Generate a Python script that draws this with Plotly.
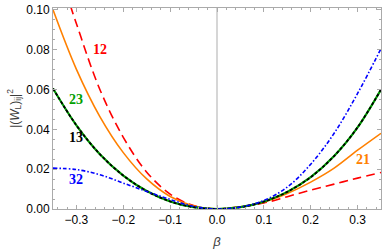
import plotly.graph_objects as go

beta = [-0.35, -0.30, -0.25, -0.20, -0.15, -0.10, -0.05, 0.0,
        0.05, 0.10, 0.15, 0.20, 0.25, 0.30, 0.35]

w12 = [0.129, 0.093, 0.060, 0.036, 0.0185, 0.0075, 0.0017, 0.0,
       0.0012, 0.0030, 0.0062, 0.0095, 0.0125, 0.0155, 0.0183]
w21 = [0.1000, 0.0701, 0.0464, 0.0283, 0.0151, 0.0063, 0.0015, 0.0,
       0.0011, 0.0035, 0.0078, 0.0135, 0.0205, 0.0295, 0.0380]
w13 = [0.0605, 0.0420, 0.0275, 0.0168, 0.0090, 0.0038, 0.0009, 0.0,
       0.0009, 0.0037, 0.0086, 0.0160, 0.0266, 0.0410, 0.0600]
w23 = [0.0605, 0.0420, 0.0275, 0.0168, 0.0090, 0.0038, 0.0009, 0.0,
       0.0009, 0.0037, 0.0086, 0.0160, 0.0266, 0.0410, 0.0600]
w32 = [0.0205, 0.0198, 0.0172, 0.0130, 0.0088, 0.0048, 0.0013, 0.0,
       0.0010, 0.0043, 0.0110, 0.0225, 0.0380, 0.0580, 0.0805]

labels = ["12", "21", "13", "23", "32"]
label_x = [-0.249, 0.311, -0.300, -0.300, -0.300]
label_y = [0.080, 0.0247, 0.0357, 0.0551, 0.0147]

RED = "rgb(255,0,0)"
ORANGE = "rgb(255,128,0)"
BLACK = "rgb(0,0,0)"
GREEN = "rgb(0,160,0)"
BLUE = "rgb(0,0,255)"
label_colors = [RED, ORANGE, BLACK, GREEN, BLUE]

fig = go.Figure()

# vertical line at beta = 0
fig.add_shape(type="line", x0=0, x1=0, y0=0, y1=1, xref="x", yref="paper",
              line=dict(color="rgb(200,200,200)", width=1.5), layer="below")

common = dict(mode="lines", line_shape="spline", showlegend=False, hoverinfo="skip")
fig.add_trace(go.Scatter(x=beta, y=w12, line=dict(color=RED, width=1.6, dash="9px,5px"), **common))
fig.add_trace(go.Scatter(x=beta, y=w21, line=dict(color=ORANGE, width=1.6), **common))
fig.add_trace(go.Scatter(x=beta, y=w23, line=dict(color=GREEN, width=2.2), **common))
fig.add_trace(go.Scatter(x=beta, y=w13, line=dict(color=BLACK, width=1.8, dash="3px,2px"), **common))
fig.add_trace(go.Scatter(x=beta, y=w32, line=dict(color=BLUE, width=1.6, dash="4px,2px,1.5px,2px"), **common))

for t, x, y, c in zip(labels, label_x, label_y, label_colors):
    fig.add_annotation(x=x, y=y, text="<b>" + t + "</b>", showarrow=False,
                       font=dict(family="Liberation Serif", size=14, color=c))

frame = "rgb(170,170,170)"
fig.update_layout(
    width=382, height=249,
    margin=dict(l=53, r=1, t=8, b=40),
    paper_bgcolor="white", plot_bgcolor="white",
    font=dict(family="Liberation Sans", size=12, color="black"),
    xaxis=dict(range=[-0.35, 0.35], tickvals=[-0.3, -0.2, -0.1, 0.0, 0.1, 0.2, 0.3],
               ticktext=["\u22120.3", "\u22120.2", "\u22120.1", "0.0", "0.1", "0.2", "0.3"],
               ticks="inside", ticklen=4, tickcolor=frame, showgrid=False, zeroline=False,
               showline=True, linecolor=frame, linewidth=1, mirror="allticks",
               minor=dict(dtick=0.02, tick0=0, ticks="inside", ticklen=2, tickcolor=frame, showgrid=False),
               title=dict(text="<i>β</i>", standoff=10, font=dict(size=13, color="rgb(60,60,60)"))),
    yaxis=dict(range=[0, 0.1009], tickvals=[0, 0.02, 0.04, 0.06, 0.08, 0.10],
               ticktext=["0.00", "0.02", "0.04", "0.06", "0.08", "0.10"],
               ticks="inside", ticklen=4, tickcolor=frame, showgrid=False, zeroline=False,
               showline=True, linecolor=frame, linewidth=1, mirror="allticks",
               minor=dict(dtick=0.005, tick0=0, ticks="inside", ticklen=2, tickcolor=frame, showgrid=False),
               title=dict(text="|(<i>W</i><sub>L</sub>)<sub>ij</sub>|<sup>2</sup>", standoff=4,
                          font=dict(size=12, color="rgb(60,60,60)"))),
)

fig.write_html("out.html", config={"displayModeBar": False},
               post_script="document.body.style.margin='0';document.body.style.overflow='hidden';")
